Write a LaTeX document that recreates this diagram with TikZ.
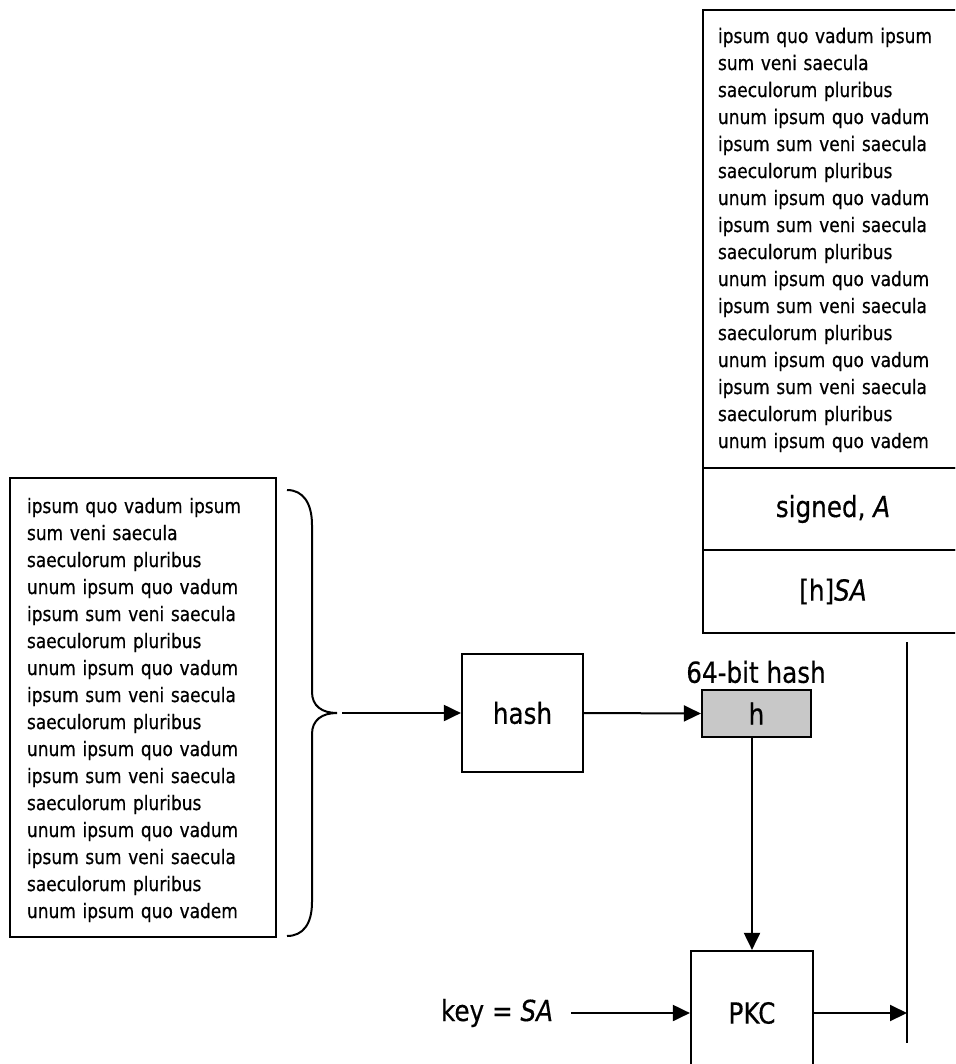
\documentclass[tikz,border=0pt]{standalone}
\usepackage{fontspec}
\setmainfont{DejaVu Sans}
\newfontfamily\handfont[FakeStretch=0.85,FakeBold=0.6]{DejaVu Sans}
\newfontfamily\labelfont[FakeStretch=0.85,FakeBold=0.4]{DejaVu Sans}
\usetikzlibrary{arrows.meta}
\definecolor{hashgray}{RGB}{200,200,200}
\newcommand{\lorem}{ipsum quo vadum ipsum\\ sum veni saecula\\ saeculorum pluribus\\
unum ipsum quo vadum\\ ipsum sum veni saecula\\ saeculorum pluribus\\
unum ipsum quo vadum\\ ipsum sum veni saecula\\ saeculorum pluribus\\
unum ipsum quo vadum\\ ipsum sum veni saecula\\ saeculorum pluribus\\
unum ipsum quo vadum\\ ipsum sum veni saecula\\ saeculorum pluribus\\
unum ipsum quo vadem}
\begin{document}
\begin{tikzpicture}[x=1pt,y=-1pt,
  box/.style={draw, line width=2.2pt, inner sep=0pt},
  bodytext/.style={align=left, text width=232pt, inner sep=0pt,
    font=\handfont\fontsize{20}{27}\selectfont},
  lbl/.style={font=\labelfont\fontsize{29}{34}\selectfont, inner sep=0pt},
  arr/.style={line width=2pt, -{Triangle[length=17pt,width=16pt]}},
  conn/.style={line width=2pt}]
  \useasboundingbox (0,0) rectangle (955,1064);
  \clip (0,0) rectangle (955,1064);
  \fill[white] (0,0) rectangle (955,1064);

  % signed message on the right: text, signer, signature
  \node[box, minimum width=260pt, minimum height=458pt] (msg) at (833,239) {};
  \node[bodytext, text width=230pt] (msgtext) at (833,240) {\lorem};
  \node[box, lbl, minimum width=260pt, minimum height=82pt] (signed) at (833,509) {signed, \textit{A}};
  \node[box, lbl, minimum width=260pt, minimum height=83pt] (sig) at (833,591.5) {[h]\textit{SA}};

  % plain message on the left
  \node[box, minimum width=266pt, minimum height=459pt] (doc) at (143,707.5) {};
  \node[bodytext] (doctext) at (143,710) {\lorem};

  % brace gathering the whole message
  \draw[line width=2pt]
    (287,490) .. controls (303,490) and (312,503) .. (312,525)
    -- (312,692) .. controls (312,706) and (322,713) .. (337,713)
    .. controls (322,713) and (312,720) .. (312,734)
    -- (312,902) .. controls (312,924) and (303,936) .. (287,936);
  \coordinate (tip) at (342,713);

  % hash function and its result
  \node[box, lbl, minimum width=121pt, minimum height=118pt] (hash) at (522.5,713) {hash};
  \node[box, lbl, fill=hashgray, minimum width=109pt, minimum height=47pt] (h) at (756.5,713.5) {h};
  \node[lbl] (hlabel) at (756,672) {64-bit hash};

  % public key cipher
  \node[box, lbl, minimum width=122pt, minimum height=124pt] (pkc) at (752,1013) {PKC};
  \node[lbl] (key) at (497,1013) {key = \textit{SA}};
  \coordinate (keyend) at (571,1013);

  % output rail
  \coordinate (rtop) at (907,642);
  \coordinate (rbot) at (907,1043);
  \draw[conn] (rtop) -- (rbot);

  % connectors
  \draw[arr] (tip) -- (hash.west);
  \draw[arr] (hash.east) -- (h.west);
  \draw[arr] (h.south -| pkc.north) -- (pkc.north);
  \draw[arr] (keyend) -- (pkc.west);
  \draw[arr] (pkc.east) -- (pkc.east -| rtop);
\end{tikzpicture}
\end{document}
